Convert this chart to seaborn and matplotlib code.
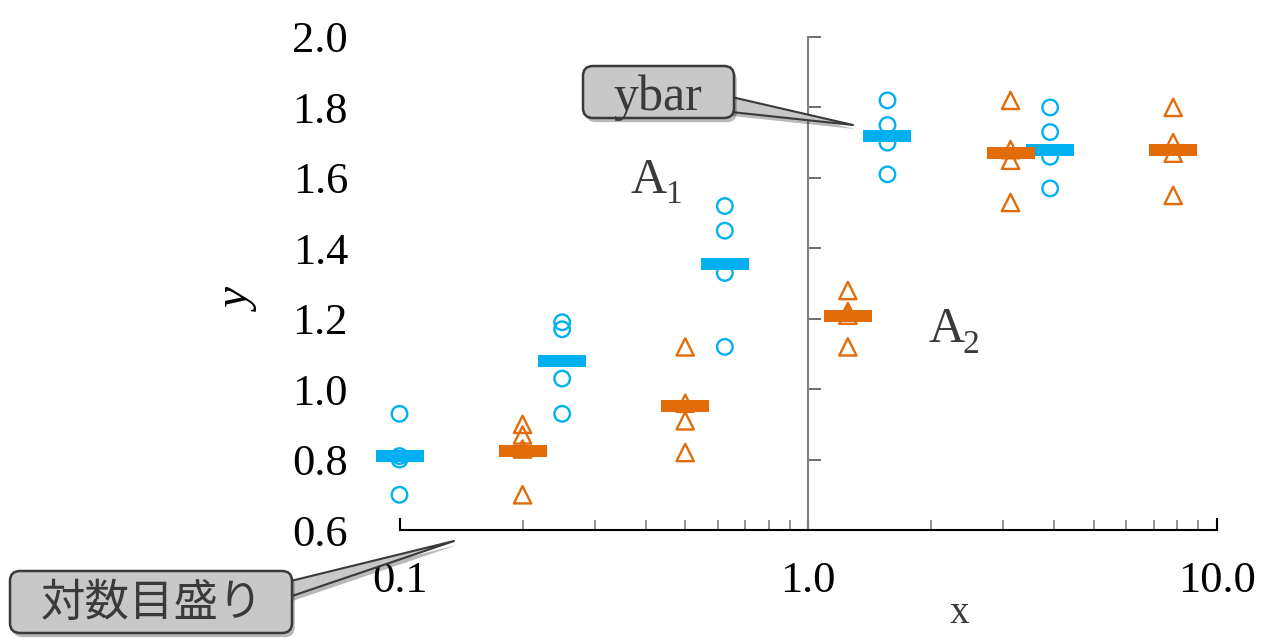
import numpy as np
import pandas as pd
import matplotlib
matplotlib.use("Agg")
import matplotlib.pyplot as plt
import seaborn as sns
from matplotlib.path import Path
from matplotlib.patches import FancyBboxPatch
from matplotlib.ticker import LogLocator, NullFormatter
import matplotlib.patheffects as pe

# ---------------- data ----------------
x_blue = [0.1, 0.25, 0.625, 1.5625, 3.90625]
y_blue = [
    [0.93, 0.81, 0.80, 0.70],
    [1.19, 1.17, 1.03, 0.93],
    [1.52, 1.45, 1.33, 1.12],
    [1.82, 1.75, 1.70, 1.61],
    [1.80, 1.73, 1.66, 1.57],
]
ybar_blue = [0.81, 1.08, 1.355, 1.72, 1.68]

x_orange = [0.2, 0.5, 1.25, 3.125, 7.8125]
y_orange = [
    [0.90, 0.87, 0.83, 0.70],
    [1.12, 0.96, 0.91, 0.82],
    [1.28, 1.22, 1.21, 1.12],
    [1.82, 1.68, 1.65, 1.53],
    [1.80, 1.70, 1.67, 1.55],
]
ybar_orange = [0.824, 0.953, 1.208, 1.67, 1.68]

xticks = [0.1, 1.0, 10.0]
xtick_labels = ["0.1", "1.0", "10.0"]
yticks = [0.6, 0.8, 1.0, 1.2, 1.4, 1.6, 1.8, 2.0]
ytick_labels = ["0.6", "0.8", "1.0", "1.2", "1.4", "1.6", "1.8", "2.0"]

BLUE = "#00b0f0"
ORANGE = "#e36c09"
TXT = "#3a3a3a"
BOXFC = "#c8c8c8"

# ---------------- style ----------------
sns.set_theme(style="white")
plt.rcParams["font.family"] = ["Liberation Serif", "DejaVu Serif"]

df_blue = pd.DataFrame({
    "x": [xv for xv, ys in zip(x_blue, y_blue) for _ in ys],
    "y": [v for ys in y_blue for v in ys],
})
df_orange = pd.DataFrame({
    "x": [xv for xv, ys in zip(x_orange, y_orange) for _ in ys],
    "y": [v for ys in y_orange for v in ys],
})
df_bar_blue = pd.DataFrame({"x": x_blue, "y": ybar_blue})
df_bar_orange = pd.DataFrame({"x": x_orange, "y": ybar_orange})

fig = plt.figure(figsize=(12.61, 6.38), dpi=100)
fig.patch.set_facecolor("white")
ax = fig.add_axes([399.5 / 1261, 108 / 638, 817.5 / 1261, 493 / 638])
ax.set_xscale("log")
ax.set_xlim(0.1, 10)
ax.set_ylim(0.6, 2.0)

bar_marker = Path([(-1, -0.25), (1, -0.25), (1, 0.25), (-1, 0.25), (-1, -0.25)],
                  [Path.MOVETO, Path.LINETO, Path.LINETO, Path.LINETO, Path.CLOSEPOLY])

sns.scatterplot(data=df_blue, x="x", y="y", ax=ax, marker="o", s=125,
                facecolor="none", edgecolor=BLUE, color=BLUE, linewidth=1.7,
                clip_on=False, zorder=3, legend=False)
sns.scatterplot(data=df_orange, x="x", y="y", ax=ax, marker="^", s=155,
                facecolor="none", edgecolor=ORANGE, color=ORANGE, linewidth=1.7,
                clip_on=False, zorder=3, legend=False)
sns.scatterplot(data=df_bar_blue, x="x", y="y", ax=ax, marker=bar_marker, s=1195,
                color=BLUE, edgecolor=BLUE, linewidth=0, clip_on=False,
                zorder=4, legend=False)
sns.scatterplot(data=df_bar_orange, x="x", y="y", ax=ax, marker=bar_marker, s=1195,
                color=ORANGE, edgecolor=ORANGE, linewidth=0, clip_on=False,
                zorder=5, legend=False)

ax.set_xlabel("")
ax.set_ylabel("")

# spines
ax.spines["top"].set_visible(False)
ax.spines["right"].set_visible(False)
ax.spines["left"].set_position(("data", 1.0))
ax.spines["left"].set_color("#808080")
ax.spines["left"].set_linewidth(1.5)
ax.spines["bottom"].set_color("black")
ax.spines["bottom"].set_linewidth(1.5)

# y ticks on the axis at x = 1
ax.set_yticks(yticks)
ax.tick_params(axis="y", which="both", direction="in", length=9, width=1.2,
               color="#555555", labelleft=False, left=True)

# x ticks
ax.set_xticks(xticks)
ax.set_xticklabels(xtick_labels)
ax.xaxis.set_minor_locator(LogLocator(base=10, subs=np.arange(2, 10)))
ax.xaxis.set_minor_formatter(NullFormatter())
ax.tick_params(axis="x", which="major", direction="in", length=9, width=1.5,
               color="black", pad=22, labelsize=32, labelcolor="black", bottom=True)
ax.tick_params(axis="x", which="minor", direction="in", length=7.5, width=1.2,
               color="#808080", bottom=True)

# y tick labels at the far left
sec = ax.secondary_yaxis("left")
sec.set_yticks(yticks)
sec.set_yticklabels(ytick_labels)
for s in sec.spines.values():
    s.set_visible(False)
sec.tick_params(axis="y", length=0, pad=37, labelsize=32, labelcolor="black")

# axis labels
ax.text(-0.195, 0.465, "y", transform=ax.transAxes, rotation=90, ha="center",
        va="center", fontsize=34, fontstyle="italic", color="black")
ax.text(0.6844, -0.170, "x", transform=ax.transAxes, ha="center", va="center",
        fontsize=28, color=TXT)

# A1 / A2 : main letter plus a lowered subscript
def label_with_sub(xa, ya, main, sub):
    ax.text(xa, ya, main, transform=ax.transAxes, ha="left", va="baseline",
            fontsize=36, color=TXT)
    ax.annotate(sub, xy=(xa, ya), xycoords=ax.transAxes, xytext=(25, -7.5),
                textcoords="offset points", ha="left", va="baseline",
                fontsize=24, color=TXT)

label_with_sub(0.282, 0.684, "A", "1")
label_with_sub(0.6465, 0.381, "A", "2")

# ---------------- callouts (overlay in pixel coordinates) ----------------
ov = fig.add_axes([0, 0, 1, 1], zorder=10)
ov.set_xlim(0, 1261)
ov.set_ylim(638, 0)
ov.axis("off")
ov.patch.set_visible(False)

shadow = [pe.withSimplePatchShadow(offset=(2, -3), shadow_rgbFace="k", alpha=0.3)]

def callout(box, text_xy, text, tip, base, fontkw):
    x0, y0, w, h = box
    patch = FancyBboxPatch((x0, y0), w, h, boxstyle="round,pad=0,rounding_size=10",
                           fc=BOXFC, ec=TXT, lw=1.8, zorder=4)
    patch.set_path_effects(shadow)
    ov.add_patch(patch)
    ov.annotate("", xy=tip, xytext=base, zorder=3,
                arrowprops=dict(arrowstyle="wedge,tail_width=11,shrink_factor=0.5",
                                fc=BOXFC, ec=TXT, lw=1.5, mutation_scale=1,
                                shrinkA=0, shrinkB=0, path_effects=shadow))
    ov.text(text_xy[0], text_xy[1], text, ha="center", zorder=5, color=TXT, **fontkw)

callout((583, 66, 151, 52), (658, 110), "ybar", (853, 125), (728, 104),
        dict(fontsize=36, va="baseline"))
callout((10, 571, 282, 62), (152, 603), "対数目盛り", (454, 541), (286, 590),
        dict(fontsize=32, va="center", family=["Noto Sans CJK JP", "DejaVu Sans"]))

fig.savefig("out.png", dpi=100)
